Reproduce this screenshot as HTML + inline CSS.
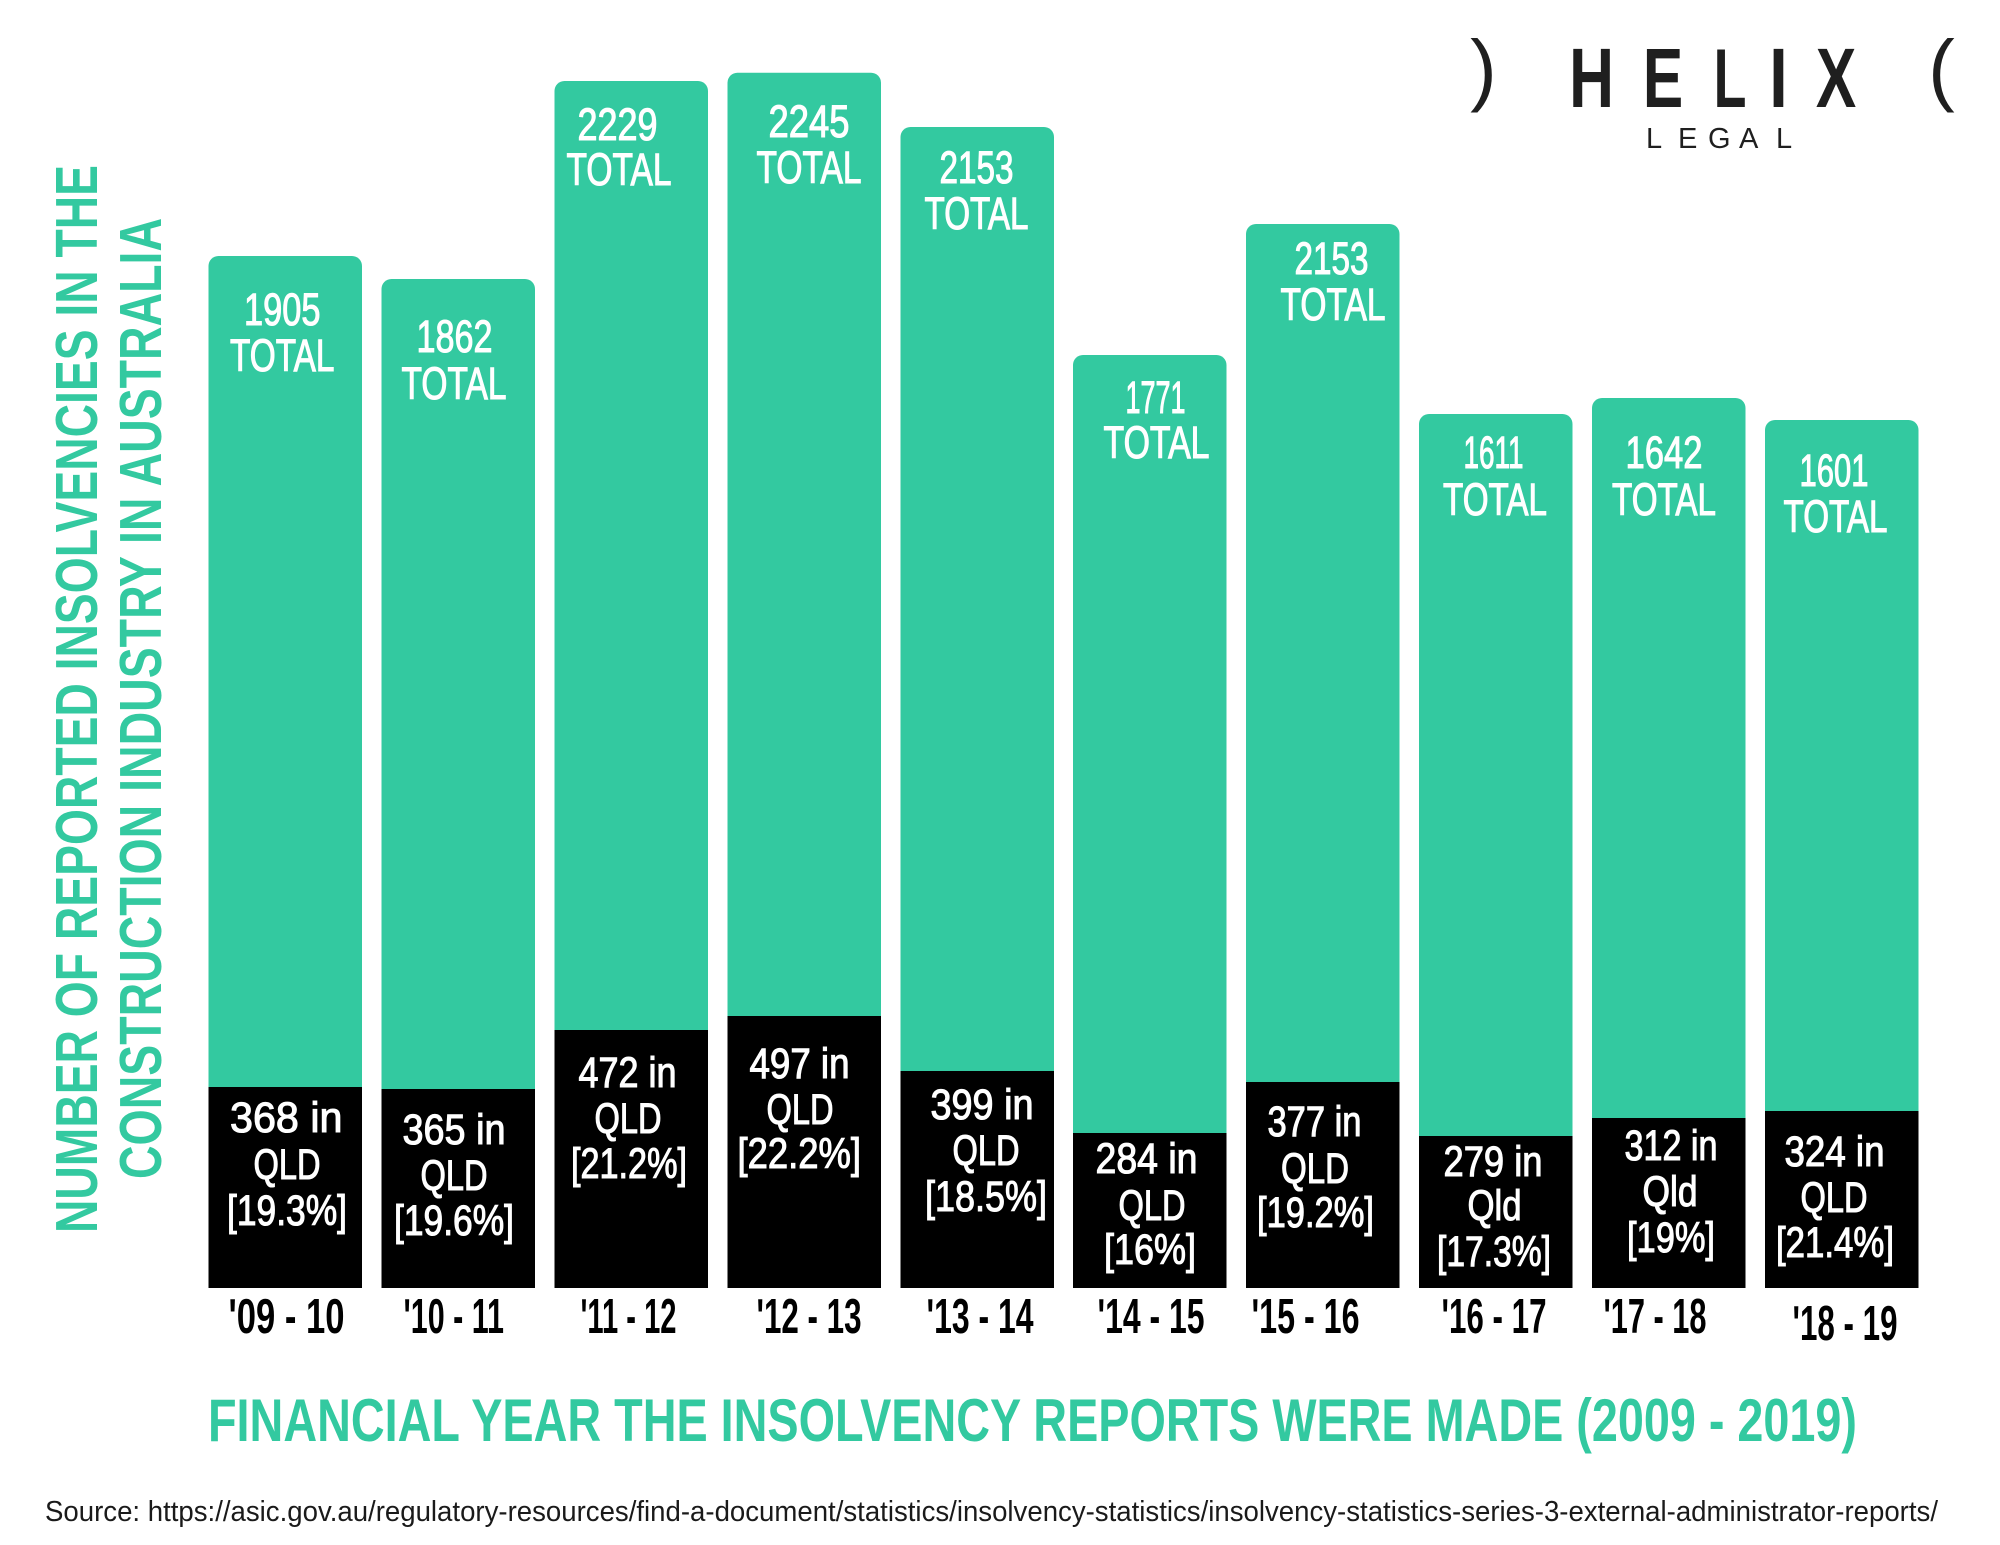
<!DOCTYPE html>
<html><head><meta charset="utf-8"><style>
html,body{margin:0;padding:0;background:#fff;}
svg{display:block;}
text{font-family:"Liberation Sans",Arial,sans-serif;}
.t{fill:#fff;font-size:45px;stroke:#fff;stroke-width:1.1px;}
.q{fill:#fff;font-size:43px;stroke:#fff;stroke-width:1.1px;}
.x{fill:#000;font-size:49px;font-weight:bold;}
.g{fill:#33c9a0;font-size:60px;font-weight:bold;}
.s{fill:#1a1a1a;font-size:29px;}
.l{fill:#1f1f1f;}
</style></head><body>
<svg width="2000" height="1545" viewBox="0 0 2000 1545" xmlns="http://www.w3.org/2000/svg">
<rect width="2000" height="1545" fill="#fff"/>
<g fill="#33c9a0">
<path d="M208.5,1288 V266 A10,10 0 0 1 218.5,256 H352 A10,10 0 0 1 362,266 V1288 Z"/>
<path d="M381.5,1288 V289 A10,10 0 0 1 391.5,279 H525 A10,10 0 0 1 535,289 V1288 Z"/>
<path d="M554.5,1288 V91 A10,10 0 0 1 564.5,81 H698 A10,10 0 0 1 708,91 V1288 Z"/>
<path d="M727.5,1288 V82.7 A10,10 0 0 1 737.5,72.7 H871 A10,10 0 0 1 881,82.7 V1288 Z"/>
<path d="M900.5,1288 V137 A10,10 0 0 1 910.5,127 H1044 A10,10 0 0 1 1054,137 V1288 Z"/>
<path d="M1073,1288 V365 A10,10 0 0 1 1083,355 H1216.5 A10,10 0 0 1 1226.5,365 V1288 Z"/>
<path d="M1246,1288 V234 A10,10 0 0 1 1256,224 H1389.5 A10,10 0 0 1 1399.5,234 V1288 Z"/>
<path d="M1419,1288 V424 A10,10 0 0 1 1429,414 H1562.5 A10,10 0 0 1 1572.5,424 V1288 Z"/>
<path d="M1592,1288 V408 A10,10 0 0 1 1602,398 H1735.5 A10,10 0 0 1 1745.5,408 V1288 Z"/>
<path d="M1765,1288 V430 A10,10 0 0 1 1775,420 H1908.5 A10,10 0 0 1 1918.5,430 V1288 Z"/>
</g>
<g fill="#000">
<rect x="208.5" y="1087" width="153.5" height="201"/>
<rect x="381.5" y="1089" width="153.5" height="199"/>
<rect x="554.5" y="1030" width="153.5" height="258"/>
<rect x="727.5" y="1016" width="153.5" height="272"/>
<rect x="900.5" y="1071" width="153.5" height="217"/>
<rect x="1073" y="1133" width="153.5" height="155"/>
<rect x="1246" y="1082" width="153.5" height="206"/>
<rect x="1419" y="1136" width="153.5" height="152"/>
<rect x="1592" y="1118" width="153.5" height="170"/>
<rect x="1765" y="1111" width="153.5" height="177"/>
</g>

<!-- top labels -->
<g class="t">
<text x="244" y="325" textLength="76.5" lengthAdjust="spacingAndGlyphs">1905</text>
<text x="230" y="371" textLength="104.5" lengthAdjust="spacingAndGlyphs">TOTAL</text>
<text x="416.5" y="352" textLength="76" lengthAdjust="spacingAndGlyphs">1862</text>
<text x="401.5" y="399" textLength="105" lengthAdjust="spacingAndGlyphs">TOTAL</text>
<text x="577.5" y="140" textLength="80" lengthAdjust="spacingAndGlyphs">2229</text>
<text x="566.5" y="185" textLength="105" lengthAdjust="spacingAndGlyphs">TOTAL</text>
<text x="768.5" y="137" textLength="81" lengthAdjust="spacingAndGlyphs">2245</text>
<text x="756.5" y="183" textLength="105" lengthAdjust="spacingAndGlyphs">TOTAL</text>
<text x="939.5" y="183" textLength="74" lengthAdjust="spacingAndGlyphs">2153</text>
<text x="924.5" y="229" textLength="104" lengthAdjust="spacingAndGlyphs">TOTAL</text>
<text x="1125.5" y="413" textLength="60" lengthAdjust="spacingAndGlyphs">1771</text>
<text x="1103.5" y="458" textLength="106" lengthAdjust="spacingAndGlyphs">TOTAL</text>
<text x="1294.5" y="274" textLength="74" lengthAdjust="spacingAndGlyphs">2153</text>
<text x="1280.5" y="320" textLength="105" lengthAdjust="spacingAndGlyphs">TOTAL</text>
<text x="1463.5" y="468" textLength="60" lengthAdjust="spacingAndGlyphs">1611</text>
<text x="1443" y="515" textLength="104" lengthAdjust="spacingAndGlyphs">TOTAL</text>
<text x="1625.5" y="468" textLength="77" lengthAdjust="spacingAndGlyphs">1642</text>
<text x="1612" y="515" textLength="104" lengthAdjust="spacingAndGlyphs">TOTAL</text>
<text x="1799.5" y="486" textLength="69" lengthAdjust="spacingAndGlyphs">1601</text>
<text x="1783.5" y="532" textLength="104" lengthAdjust="spacingAndGlyphs">TOTAL</text>
</g>

<!-- QLD labels -->
<g class="q">
<text x="230" y="1132" textLength="112.5" lengthAdjust="spacingAndGlyphs">368  in</text>
<text x="253.5" y="1179" textLength="67" lengthAdjust="spacingAndGlyphs">QLD</text>
<text x="227" y="1225" textLength="120" lengthAdjust="spacingAndGlyphs">[19.3%]</text>

<text x="402.5" y="1144" textLength="103" lengthAdjust="spacingAndGlyphs">365 in</text>
<text x="420.5" y="1190" textLength="67" lengthAdjust="spacingAndGlyphs">QLD</text>
<text x="394" y="1235" textLength="120" lengthAdjust="spacingAndGlyphs">[19.6%]</text>

<text x="578.5" y="1087" textLength="98" lengthAdjust="spacingAndGlyphs">472 in</text>
<text x="594.5" y="1133" textLength="67" lengthAdjust="spacingAndGlyphs">QLD</text>
<text x="571" y="1178" textLength="116" lengthAdjust="spacingAndGlyphs">[21.2%]</text>

<text x="749.5" y="1078" textLength="100" lengthAdjust="spacingAndGlyphs">497 in</text>
<text x="766.5" y="1124" textLength="67" lengthAdjust="spacingAndGlyphs">QLD</text>
<text x="737.5" y="1168" textLength="123.5" lengthAdjust="spacingAndGlyphs">[22.2%]</text>

<text x="930.5" y="1119" textLength="103" lengthAdjust="spacingAndGlyphs">399 in</text>
<text x="952.5" y="1165" textLength="67" lengthAdjust="spacingAndGlyphs">QLD</text>
<text x="925" y="1211" textLength="122" lengthAdjust="spacingAndGlyphs">[18.5%]</text>

<text x="1095.5" y="1173" textLength="102" lengthAdjust="spacingAndGlyphs">284 in</text>
<text x="1118.5" y="1220" textLength="67" lengthAdjust="spacingAndGlyphs">QLD</text>
<text x="1104" y="1264" textLength="92" lengthAdjust="spacingAndGlyphs">[16%]</text>

<text x="1267.5" y="1136" textLength="94" lengthAdjust="spacingAndGlyphs">377 in</text>
<text x="1281" y="1183" textLength="68" lengthAdjust="spacingAndGlyphs">QLD</text>
<text x="1257" y="1227" textLength="117" lengthAdjust="spacingAndGlyphs">[19.2%]</text>

<text x="1443.5" y="1176" textLength="99" lengthAdjust="spacingAndGlyphs">279 in</text>
<text x="1467.5" y="1220" textLength="54" lengthAdjust="spacingAndGlyphs">Qld</text>
<text x="1437" y="1266" textLength="114" lengthAdjust="spacingAndGlyphs">[17.3%]</text>

<text x="1624.5" y="1160" textLength="93" lengthAdjust="spacingAndGlyphs">312 in</text>
<text x="1642.5" y="1206" textLength="55" lengthAdjust="spacingAndGlyphs">Qld</text>
<text x="1627" y="1252" textLength="88" lengthAdjust="spacingAndGlyphs">[19%]</text>

<text x="1784.5" y="1166" textLength="100" lengthAdjust="spacingAndGlyphs">324 in</text>
<text x="1800.5" y="1212" textLength="67" lengthAdjust="spacingAndGlyphs">QLD</text>
<text x="1776" y="1257" textLength="118" lengthAdjust="spacingAndGlyphs">[21.4%]</text>
</g>

<!-- x labels -->
<g class="x">
<text x="228.5" y="1333" textLength="116" lengthAdjust="spacingAndGlyphs">'09 - 10</text>
<text x="403.5" y="1333" textLength="100.5" lengthAdjust="spacingAndGlyphs">'10 - 11</text>
<text x="580.5" y="1333" textLength="96" lengthAdjust="spacingAndGlyphs">'11 - 12</text>
<text x="756.5" y="1333" textLength="105" lengthAdjust="spacingAndGlyphs">'12 - 13</text>
<text x="926.5" y="1333" textLength="107" lengthAdjust="spacingAndGlyphs">'13 - 14</text>
<text x="1097.5" y="1333" textLength="107" lengthAdjust="spacingAndGlyphs">'14 - 15</text>
<text x="1251.5" y="1333" textLength="108" lengthAdjust="spacingAndGlyphs">'15 - 16</text>
<text x="1441.5" y="1333" textLength="105" lengthAdjust="spacingAndGlyphs">'16 - 17</text>
<text x="1603.5" y="1333" textLength="103" lengthAdjust="spacingAndGlyphs">'17 - 18</text>
<text x="1792.5" y="1340" textLength="105" lengthAdjust="spacingAndGlyphs">'18 - 19</text>
</g>

<!-- x title -->
<text class="g" x="208" y="1441" textLength="1649" lengthAdjust="spacingAndGlyphs">FINANCIAL YEAR THE INSOLVENCY REPORTS WERE MADE (2009 - 2019)</text>

<!-- y title -->
<text class="g" style="font-size:59px" transform="translate(97,1233) rotate(-90)" textLength="1068" lengthAdjust="spacingAndGlyphs">NUMBER OF REPORTED INSOLVENCIES IN THE</text>
<text class="g" style="font-size:59px" transform="translate(161,1179) rotate(-90)" textLength="961" lengthAdjust="spacingAndGlyphs">CONSTRUCTION INDUSTRY IN AUSTRALIA</text>

<!-- source -->
<text class="s" x="45" y="1521" textLength="1893" lengthAdjust="spacingAndGlyphs">Source: https://asic.gov.au/regulatory-resources/find-a-document/statistics/insolvency-statistics/insolvency-statistics-series-3-external-administrator-reports/</text>

<!-- logo -->
<g class="l">
<text x="1483.5" y="96" font-size="80" text-anchor="middle">)</text>
<text x="1941.5" y="96" font-size="80" text-anchor="middle">(</text>
<g font-size="84" font-weight="bold" text-anchor="middle">
<text transform="translate(1591.5,107) scale(0.74,1)">H</text>
<text transform="translate(1663,107) scale(0.72,1)">E</text>
<text transform="translate(1730,107) scale(0.64,1)">L</text>
<text transform="translate(1778.5,107) scale(0.8,1)">I</text>
<text transform="translate(1836,107) scale(0.72,1)">X</text>
</g>
<g font-size="29">
<text x="1646" y="148">L</text>
<text x="1678" y="148">E</text>
<text x="1708" y="148">G</text>
<text x="1739" y="148">A</text>
<text x="1776" y="148">L</text>
</g>
</g>
</svg>
</body></html>
